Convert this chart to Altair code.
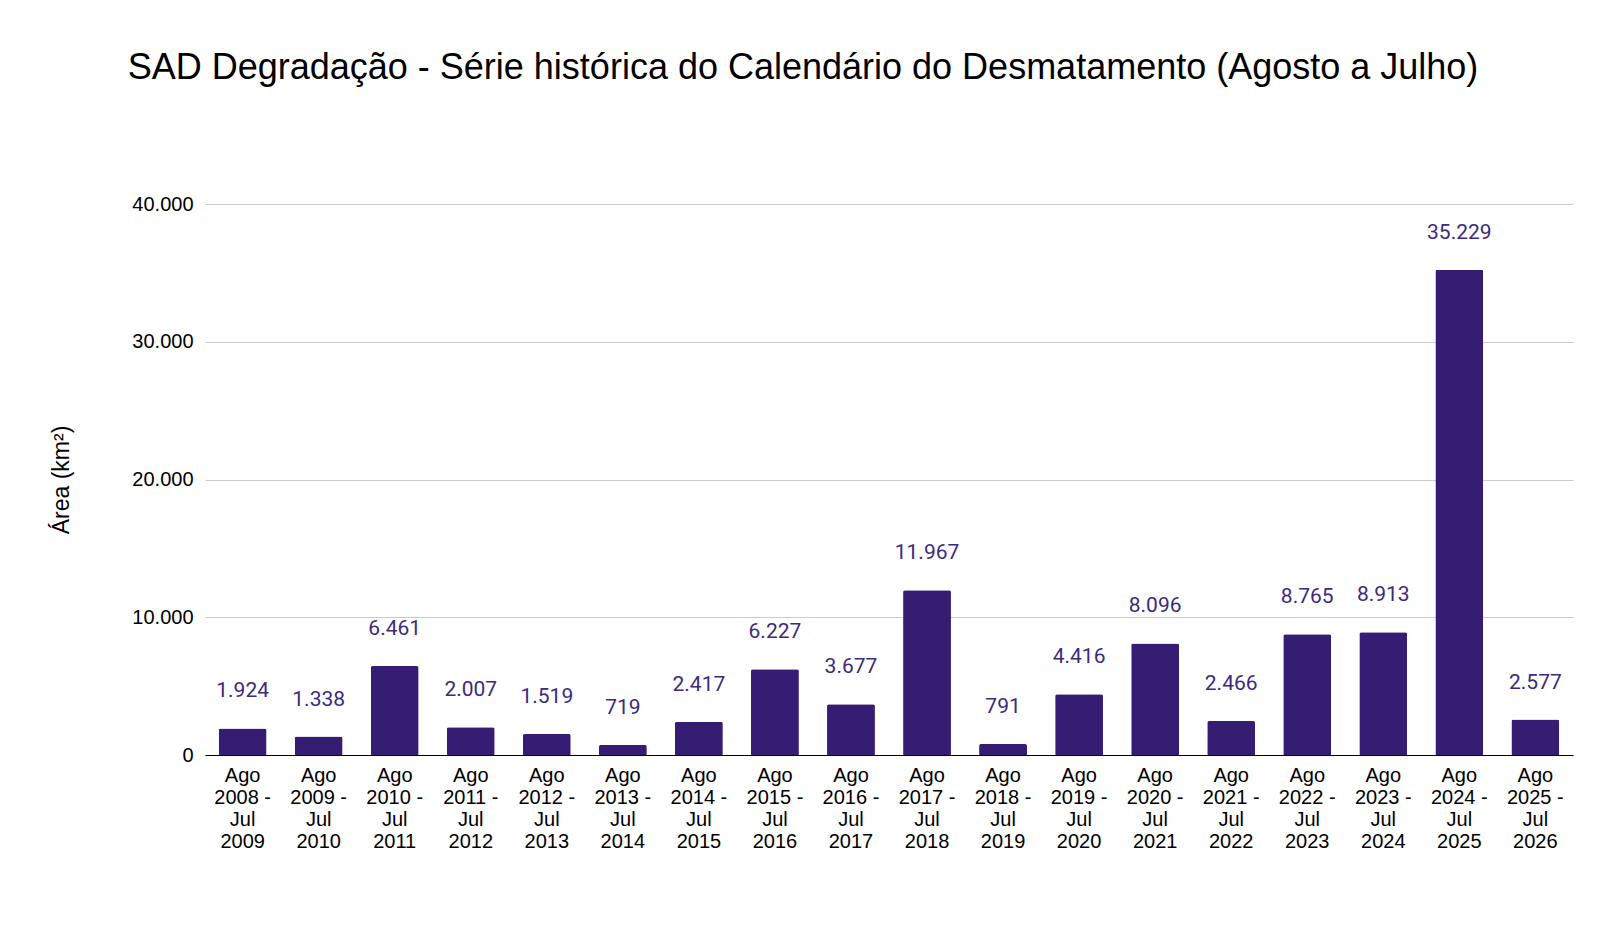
import altair as alt
import pandas as pd

periods = [f"Ago {y} - Jul {y + 1}" for y in range(2008, 2026)]
values = [1924, 1338, 6461, 2007, 1519, 719, 2417, 6227, 3677, 11967,
          791, 4416, 8096, 2466, 8765, 8913, 35229, 2577]

df = pd.DataFrame({"periodo": periods, "area": values})
df["rotulo"] = [f"{v:,}".replace(",", ".") for v in values]

x = alt.X(
    "periodo:N", sort=None, title=None,
    scale=alt.Scale(paddingInner=0.37, paddingOuter=0.18),
    axis=alt.Axis(
        labelExpr="[split(datum.label, ' ')[0], split(datum.label, ' ')[1] + ' -', split(datum.label, ' ')[3], split(datum.label, ' ')[4]]",
        labelAngle=0, labelFontSize=20, labelColor="#000000", labelLineHeight=22,
        labelPadding=10, ticks=False, domainColor="#000000", labelFont="Liberation Sans",
    ),
)
y = alt.Y(
    "area:Q", title="Área (km²)",
    scale=alt.Scale(domain=[0, 40000]),
    axis=alt.Axis(
        values=[0, 10000, 20000, 30000, 40000],
        labelExpr="replace(format(datum.value, ',d'), ',', '.')",
        labelFontSize=20, labelColor="#000000", labelFont="Liberation Sans", labelPadding=12,
        ticks=False, domain=False, gridColor="#cccccc",
        titleFontSize=23, titleFont="Liberation Sans", titleFontWeight="normal",
        titleColor="#000000", titlePadding=58,
    ),
)

bars = alt.Chart(df).mark_bar(color="#361d74", cornerRadiusTopLeft=2,
                              cornerRadiusTopRight=2).encode(x=x, y=y)
labels = alt.Chart(df).mark_text(
    dy=-27, baseline="bottom", fontSize=21, font="Roboto", color="#3b2a7e"
).encode(x=x, y="area:Q", text="rotulo:N")

chart = (bars + labels).properties(
    width=1368, height=551,
    autosize=alt.AutoSizeParams(type="none"),
    padding={"left": 197, "top": 196, "right": 10, "bottom": 100},
    title=alt.TitleParams(
        "SAD Degradação - Série histórica do Calendário do Desmatamento (Agosto a Julho)",
        fontSize=36, font="Liberation Sans", fontWeight="normal", color="#000000",
        anchor="middle", offset=107, dx=-86,
    ),
).configure_view(strokeWidth=0)

chart.save("out.html", embed_options={"renderer": "svg", "actions": False})
